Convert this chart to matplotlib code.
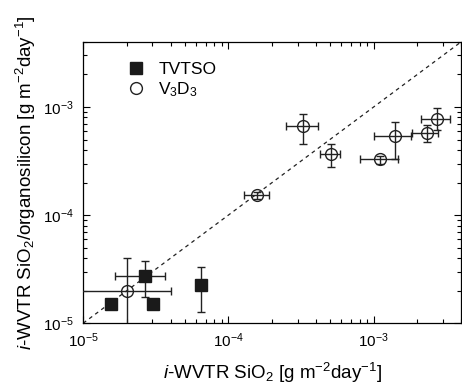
import matplotlib
matplotlib.use("Agg")
import matplotlib.pyplot as plt
import numpy as np

plt.rcParams['font.family'] = ['Liberation Sans', 'DejaVu Sans']
plt.rcParams['mathtext.fontset'] = 'custom'
plt.rcParams['mathtext.rm'] = 'Liberation Sans'
plt.rcParams['mathtext.it'] = 'Liberation Sans:italic'
plt.rcParams['mathtext.bf'] = 'Liberation Sans:bold'

# TVTSO (filled squares)
tv_x = [1.55e-5, 2.67e-5, 3.02e-5, 6.46e-5]
tv_y = [1.51e-5, 2.75e-5, 1.51e-5, 2.26e-5]
tv_xlo = [1.55e-5, 1.66e-5, 3.02e-5, 6.46e-5]
tv_xhi = [1.55e-5, 3.66e-5, 3.02e-5, 6.46e-5]
tv_ylo = [1.51e-5, 1.76e-5, 1.51e-5, 1.26e-5]
tv_yhi = [1.51e-5, 3.78e-5, 1.51e-5, 3.29e-5]

# V3D3 (open circles)
vd_x = [2.0e-5, 1.58e-4, 3.28e-4, 5.05e-4, 1.10e-3, 1.41e-3, 2.32e-3, 2.71e-3]
vd_y = [2.0e-5, 1.52e-4, 6.63e-4, 3.64e-4, 3.27e-4, 5.36e-4, 5.75e-4, 7.70e-4]
vd_xlo = [1.0e-7, 1.29e-4, 2.51e-4, 4.25e-4, 8.10e-4, 1.00e-3, 1.85e-3, 2.12e-3]
vd_xhi = [4.0e-5, 1.89e-4, 4.11e-4, 5.91e-4, 1.46e-3, 1.81e-3, 2.79e-3, 3.35e-3]
vd_ylo = [1.0e-7, 1.42e-4, 4.59e-4, 2.79e-4, 3.00e-4, 3.27e-4, 4.75e-4, 6.10e-4]
vd_yhi = [4.0e-5, 1.62e-4, 8.69e-4, 4.50e-4, 3.55e-4, 7.27e-4, 6.78e-4, 9.87e-4]

xlim = (1e-5, 4e-3)
ylim = (1e-5, 4e-3)

fig = plt.figure(figsize=(4.62, 3.88), dpi=100)
ax = fig.add_axes([0.18, 0.167, 0.818, 0.725])
ax.set_xscale('log')
ax.set_yscale('log')

ax.axline((xlim[0], ylim[0]), (1e-3, 1e-3), color='#222222', ls=(0, (3, 3)), lw=0.9, zorder=1)

def errs(v, lo, hi):
    v = np.array(v); lo = np.array(lo); hi = np.array(hi)
    return np.vstack([v - lo, hi - v])

ax.errorbar(tv_x, tv_y, xerr=errs(tv_x, tv_xlo, tv_xhi), yerr=errs(tv_y, tv_ylo, tv_yhi),
            fmt='s', ms=8.5, mfc='#1a1a1a', mec='#1a1a1a', ecolor='#222222',
            elinewidth=1.0, capsize=3, capthick=1.0, label='TVTSO', zorder=3)
ax.errorbar(vd_x, vd_y, xerr=errs(vd_x, vd_xlo, vd_xhi), yerr=errs(vd_y, vd_ylo, vd_yhi),
            fmt='o', ms=8.5, mfc='none', mec='#222222', mew=1.0, ecolor='#222222',
            elinewidth=1.0, capsize=3, capthick=1.0, label=r'V$_3$D$_3$', zorder=3)

ax.set_xlim(*xlim)
ax.set_ylim(*ylim)

ax.tick_params(which='both', direction='in', top=True, right=True, labelsize=11, width=0.8)
ax.tick_params(which='major', length=5)
ax.tick_params(which='minor', length=3)
ax.tick_params(axis='x', which='major', pad=6)
ax.tick_params(axis='y', which='major', pad=7)
for s in ax.spines.values():
    s.set_linewidth(0.9)

ax.set_xlabel(r'$\it{i}$-WVTR SiO$_2$ [g m$^{-2}$day$^{-1}$]', fontsize=13.5, labelpad=8)
ax.set_ylabel(r'$\it{i}$-WVTR SiO$_2$/organosilicon [g m$^{-2}$day$^{-1}$]', fontsize=13.5, labelpad=3)

h, l = ax.get_legend_handles_labels()
hs = [hh[0] for hh in h]
ax.legend(hs, l, loc='upper left', bbox_to_anchor=(0.075, 0.985), frameon=False,
          fontsize=12.5, handlelength=1.0, handletextpad=0.8, labelspacing=0.2)

fig.savefig('out.png', dpi=100)
